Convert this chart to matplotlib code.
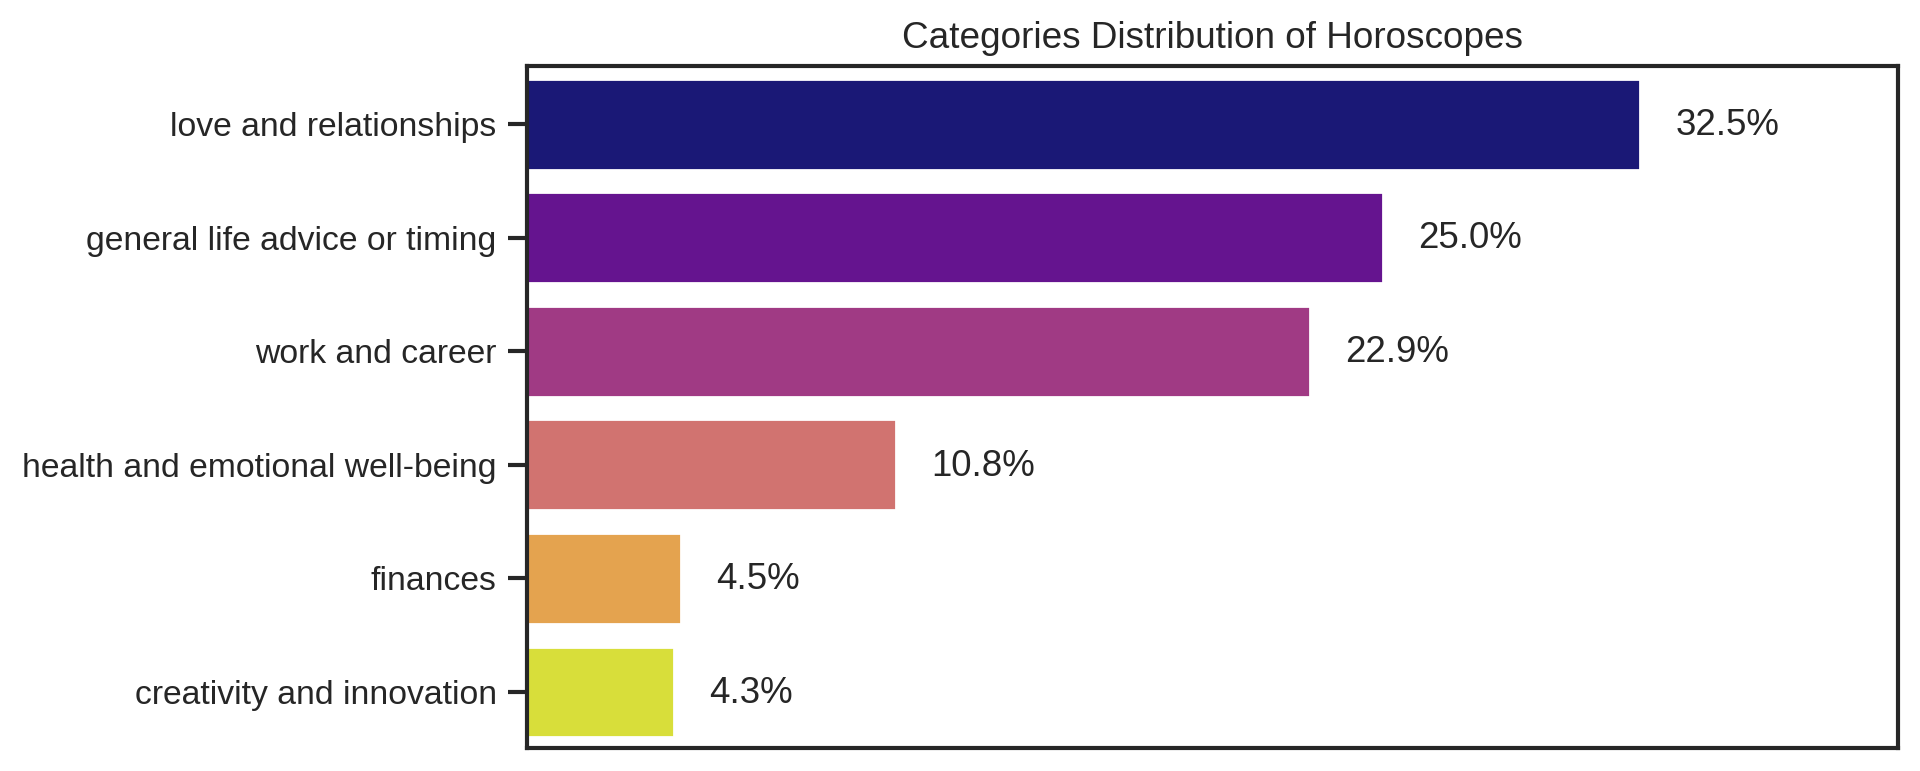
import matplotlib
matplotlib.use("Agg")
import matplotlib.pyplot as plt
import seaborn as sns

# data
categories = ["love and relationships", "general life advice or timing", "work and career",
              "health and emotional well-being", "finances", "creativity and innovation"]
shares = [32.5, 25.0, 22.86, 10.77, 4.5, 4.3]
bar_colors = ["#1a1876", "#65148f", "#a03a84", "#d17370", "#e4a34f", "#d8de3a"]

sns.set_theme(style="white")
plt.rcParams["font.family"] = ["Liberation Sans", "DejaVu Sans"]

fig = plt.figure(figsize=(9.6, 3.855), dpi=200)
ax = fig.add_axes([527 / 1920, 1 - 610 / 629, 1120 / 1568, 556 / 629])

sns.barplot(x=shares, y=categories, hue=categories, palette=bar_colors, saturation=1, legend=False, ax=ax)

for i, v in enumerate(shares):
    ax.text(v + 1.03, i + 0.01, f"{v:.1f}%", va="center", fontsize=13.2, color="#262626")

ax.set_xlim(0, 40.05)
ax.set_ylim(5.49, -0.51)
ax.set_xticks([])
ax.set_xlabel("")
ax.set_ylabel("")
ax.set_title("Categories Distribution of Horoscopes", fontsize=13.3, color="#262626", pad=6.5)
ax.tick_params(axis="y", left=True, length=7, width=1.5, labelsize=12.15, labelcolor="#262626", color="#262626", pad=3.9)
for side in ax.spines.values():
    side.set_linewidth(1.5)
    side.set_color("#262626")

fig.savefig("out.png", dpi=200)
